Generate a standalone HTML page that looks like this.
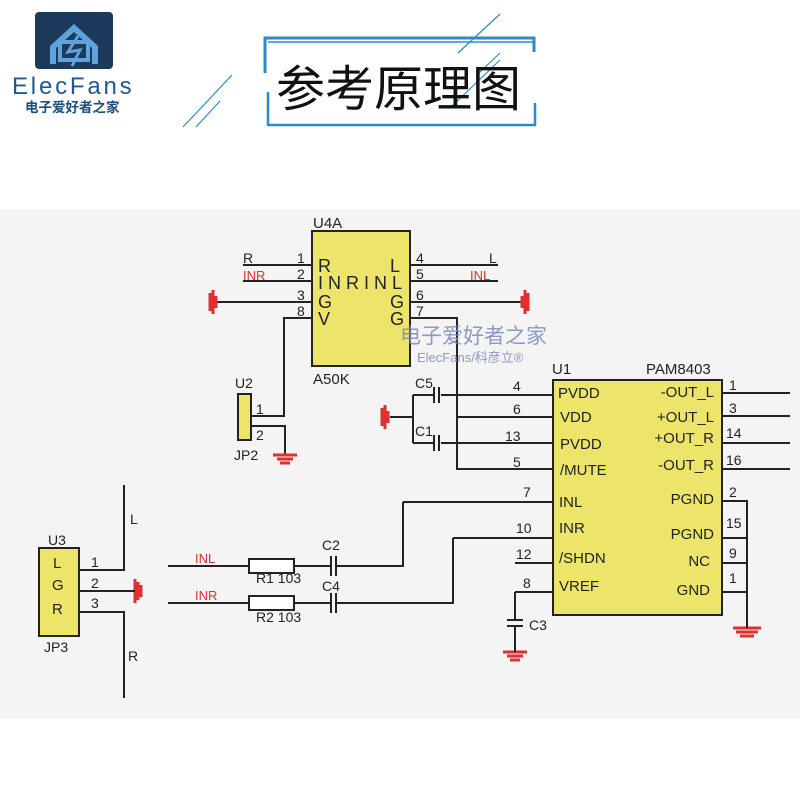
<!DOCTYPE html>
<html><head><meta charset="utf-8"><style>
body{margin:0;width:800px;height:800px;background:#fff;overflow:hidden}
svg{display:block}
text{font-family:"Liberation Sans","Noto Sans CJK SC",sans-serif}
</style></head><body>
<svg width="800" height="800" viewBox="0 0 800 800" xmlns="http://www.w3.org/2000/svg">
<rect x="0" y="210" width="800" height="508" fill="#f4f4f4"/>
<!-- logo -->
<rect x="35" y="12" width="78" height="57" rx="4" fill="#1b3a5c"/>
<path d="M50 46 L74 24 L98 46 L98 64 L92 64 L92 48 L74 32 L56 48 L56 64 L50 64Z" fill="#5fa3dc"/>
<rect x="60" y="42" width="28" height="18" fill="none" stroke="#5fa3dc" stroke-width="4"/>
<path d="M78 36 L68 52 L80 50 L72 66" fill="none" stroke="#5fa3dc" stroke-width="3"/>
<text x="12" y="94" font-size="24" fill="#1c5a96" letter-spacing="2.8">ElecFans</text>
<text x="25" y="112" font-size="13.5" fill="#1c4f80" font-weight="bold">电子爱好者之家</text>
<!-- title frame -->
<g stroke="#2a8ad0" fill="none">
<path d="M265 73 L265 38 L534 38 L534 52" stroke-width="3"/>
<path d="M268 42 L533 42" stroke-width="1.5"/>
<path d="M268 92 L268 125 L535 125 L535 103" stroke-width="2.5"/>
<path d="M183 127 L232 75" stroke-width="1.2"/>
<path d="M196 127 L220 101" stroke-width="1.2"/>
<path d="M458 53 L500 14" stroke-width="1.2"/>
<path d="M478 74 L500 53" stroke-width="1.2"/>
<path d="M452 106 L500 60" stroke-width="1.2"/>
</g>
<text x="276" y="106" font-size="49" fill="#111">参考原理图</text>
<!-- U4A -->
<rect x="312" y="231" width="98" height="135" fill="#ede56a" stroke="#222" stroke-width="2"/>
<text x="313" y="228" font-size="15" fill="#222">U4A</text>
<text x="313" y="384" font-size="15" fill="#222">A50K</text>
<g font-size="18" fill="#222">
<text x="318" y="272">R</text><text x="318" y="289">I N R I N L</text>
<text x="318" y="308">G</text><text x="318" y="325">V</text>
<text x="390" y="272">L</text><text x="390" y="308">G</text><text x="390" y="325">G</text>
</g>
<g font-size="14" fill="#222">
<text x="297" y="263">1</text><text x="297" y="279">2</text><text x="297" y="300">3</text><text x="297" y="316">8</text>
<text x="416" y="263">4</text><text x="416" y="279">5</text><text x="416" y="300">6</text><text x="416" y="316">7</text>
<text x="243" y="263">R</text><text x="489" y="263">L</text>
</g>
<text x="243" y="280" font-size="13" fill="#e03030">INR</text>
<text x="470" y="280" font-size="13" fill="#e03030">INL</text>
<g stroke="#222" stroke-width="2" fill="none">
<path d="M243 265H312M243 281H312M213 302H312M250 416H284V318H312"/>
<path d="M410 265H498M410 281H498M410 302H525M410 318H457V469H553"/>
<path d="M250 426H285V455"/>
<path d="M390 417H413M413 395V443M413 395H434M441 395H553M413 443H434M441 443H553M457 417H553"/>
<path d="M434 387V403M439 387V403M434 435V451M439 435V451"/>
</g>
<!-- grounds red -->
<g stroke="#e03030" stroke-width="3">
<path d="M213 290V314M210 293V311M216 296V308"/>
<path d="M525 290V314M528 293V311M522 296V308"/>
<path d="M385 405V429M382 408V426M388 411V423"/>
<path d="M273 455H297M277 459H293M280 463H290"/>
<path d="M135 579V603M138 582V600M141 585V597"/>
<path d="M733 628H761M736 632H758M740 636H754"/>
<path d="M503 652H527M507 656H523M510 660H520"/>
</g>
<text x="400" y="343" font-size="21" fill="#7a88c0" opacity="0.85">电子爱好者之家</text>
<text x="417" y="362" font-size="13" fill="#7a88c0" opacity="0.85">ElecFans/科彦立®</text>
<!-- U2 -->
<rect x="238" y="394" width="13" height="46" fill="#ede56a" stroke="#222" stroke-width="2"/>
<text x="235" y="388" font-size="14" fill="#222">U2</text>
<text x="234" y="460" font-size="14" fill="#222">JP2</text>
<text x="256" y="414" font-size="14" fill="#222">1</text><text x="256" y="440" font-size="14" fill="#222">2</text>
<g font-size="14" fill="#222">
<text x="415" y="388">C5</text><text x="415" y="436">C1</text>
<text x="513" y="391">4</text><text x="513" y="414">6</text><text x="505" y="441">13</text><text x="513" y="467">5</text>
<text x="523" y="497">7</text><text x="516" y="533">10</text><text x="516" y="559">12</text><text x="523" y="588">8</text>
</g>
<!-- U1 -->
<rect x="553" y="380" width="169" height="235" fill="#ede56a" stroke="#222" stroke-width="2"/>
<text x="552" y="374" font-size="15" fill="#222">U1</text>
<text x="646" y="374" font-size="15" fill="#222">PAM8403</text>
<g font-size="15" fill="#222">
<text x="558" y="398">PVDD</text><text x="560" y="422">VDD</text><text x="560" y="449">PVDD</text><text x="560" y="475">/MUTE</text>
<text x="559" y="507">INL</text><text x="559" y="533">INR</text><text x="559" y="563">/SHDN</text><text x="559" y="591">VREF</text>
<text x="714" y="397" text-anchor="end">-OUT_L</text><text x="714" y="422" text-anchor="end">+OUT_L</text>
<text x="714" y="443" text-anchor="end">+OUT_R</text><text x="714" y="470" text-anchor="end">-OUT_R</text>
<text x="714" y="504" text-anchor="end">PGND</text><text x="714" y="539" text-anchor="end">PGND</text>
<text x="710" y="566" text-anchor="end">NC</text><text x="710" y="595" text-anchor="end">GND</text>
</g>
<g font-size="14" fill="#222">
<text x="729" y="390">1</text><text x="729" y="413">3</text><text x="726" y="438">14</text><text x="726" y="465">16</text>
<text x="729" y="497">2</text><text x="726" y="528">15</text><text x="729" y="558">9</text><text x="729" y="583">1</text>
</g>
<g stroke="#222" stroke-width="2" fill="none">
<path d="M722 393H790M722 416H790M722 443H790M722 469H790"/>
<path d="M722 501H747V628M722 538H747M722 563H747M722 592H747"/>
<path d="M403 502H553M453 538H553M515 563H553M515 592H553V592"/>
<path d="M515 592V620M515 626V652M507 620H523M507 626H523"/>
<path d="M168 566H249M294 566H331M336 566H403V502"/>
<path d="M168 603H249M294 603H331M336 603H453V538"/>
<path d="M331 556V576M336 556V576M331 593V613M336 593V613"/>
<rect x="249" y="559" width="45" height="14" fill="#fff"/>
<rect x="249" y="596" width="45" height="14" fill="#fff"/>
<path d="M79 570H124V485M79 591H135M79 612H124V698"/>
</g>
<text x="529" y="630" font-size="14" fill="#222">C3</text>
<g font-size="14" fill="#222">
<text x="256" y="583">R1 103</text><text x="256" y="622">R2 103</text>
<text x="322" y="550">C2</text><text x="322" y="591">C4</text>
<text x="130" y="524">L</text><text x="128" y="661">R</text>
<text x="48" y="545">U3</text><text x="44" y="652">JP3</text>
<text x="91" y="567">1</text><text x="91" y="588">2</text><text x="91" y="608">3</text>
</g>
<text x="195" y="563" font-size="13" fill="#e03030">INL</text>
<text x="195" y="600" font-size="13" fill="#e03030">INR</text>
<rect x="39" y="548" width="40" height="88" fill="#ede56a" stroke="#222" stroke-width="2"/>
<g font-size="15" fill="#222"><text x="53" y="568">L</text><text x="52" y="590">G</text><text x="52" y="614">R</text></g>
</svg>
</body></html>
